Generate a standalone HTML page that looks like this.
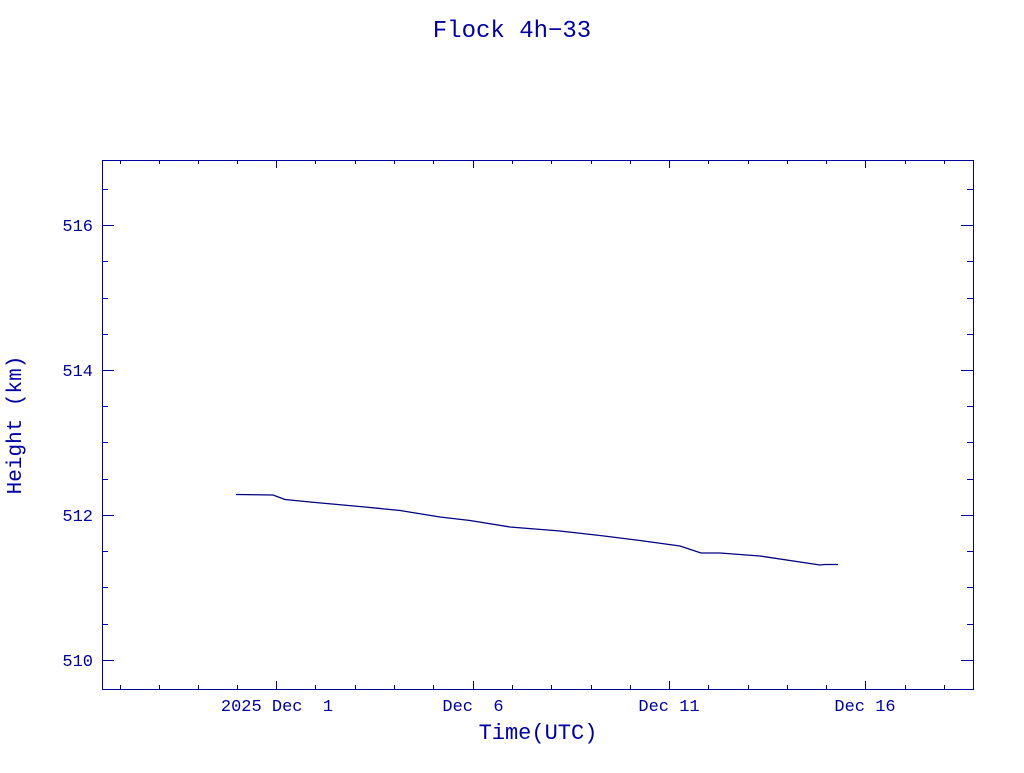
<!DOCTYPE html>
<html><head><style>body{margin:0;background:#fff}</style></head><body>
<svg width="1024" height="768" xmlns="http://www.w3.org/2000/svg" font-family="Liberation Mono, DejaVu Sans Mono, monospace" fill="#0000a0">
<rect width="1024" height="768" fill="#fff"/>
<text x="512" y="37" font-size="24" text-anchor="middle" fill="#0000a0">Flock 4h−33</text>
<rect x="102.5" y="160.5" width="871" height="529" fill="none" stroke="#0000a0" stroke-width="1"/>
<g stroke="#0000a0" stroke-width="1">
<path d="M102 225.5h12M973 225.5h-12M102 370.5h12M973 370.5h-12M102 515.5h12M973 515.5h-12M102 660.5h12M973 660.5h-12"/>
<path d="M102 189.5h6M973 189.5h-6M102 261.5h6M973 261.5h-6M102 298.5h6M973 298.5h-6M102 334.5h6M973 334.5h-6M102 406.5h6M973 406.5h-6M102 442.5h6M973 442.5h-6M102 479.5h6M973 479.5h-6M102 551.5h6M973 551.5h-6M102 587.5h6M973 587.5h-6M102 624.5h6M973 624.5h-6"/>
<path d="M276.5 689v-8M276.5 160v8M473.5 689v-8M473.5 160v8M669.5 689v-8M669.5 160v8M865.5 689v-8M865.5 160v8"/>
<path d="M120.5 689v-4M159.5 689v-4M198.5 689v-4M237.5 689v-4M315.5 689v-4M355.5 689v-4M394.5 689v-4M433.5 689v-4M512.5 689v-4M551.5 689v-4M591.5 689v-4M630.5 689v-4M708.5 689v-4M748.5 689v-4M787.5 689v-4M826.5 689v-4M905.5 689v-4M944.5 689v-4"/>
<path d="M120.5 160v4M159.5 160v4M198.5 160v4M237.5 160v4M315.5 160v4M355.5 160v4M394.5 160v4M433.5 160v4M512.5 160v4M551.5 160v4M591.5 160v4M630.5 160v4M708.5 160v4M748.5 160v4M787.5 160v4M826.5 160v4M905.5 160v4M944.5 160v4"/>
</g>
<g font-size="17" text-anchor="end">
<text x="93" y="231">516</text><text x="93" y="376">514</text><text x="93" y="521">512</text><text x="93" y="666">510</text>
</g>
<g font-size="17" text-anchor="middle" xml:space="preserve">
<text x="277" y="711" xml:space="preserve">2025 Dec  1</text>
<text x="473" y="711" xml:space="preserve">Dec  6</text>
<text x="669" y="711">Dec 11</text>
<text x="865" y="711">Dec 16</text>
<text x="538" y="739" font-size="22">Time(UTC)</text>
</g>
<text transform="translate(21,425) rotate(-90)" font-size="21" text-anchor="middle">Height (km)</text>
<polyline fill="none" stroke="#000080" stroke-width="1.3" points="236,494.5 273,495 285,499.5 310,502 365,507 400,510.5 440,517 470,520.5 510,527 560,531 600,535.5 640,540.5 680,546 701,553 720,553 760,556 820,565 825,564.5 838,564.5"/>
</svg>
</body></html>
